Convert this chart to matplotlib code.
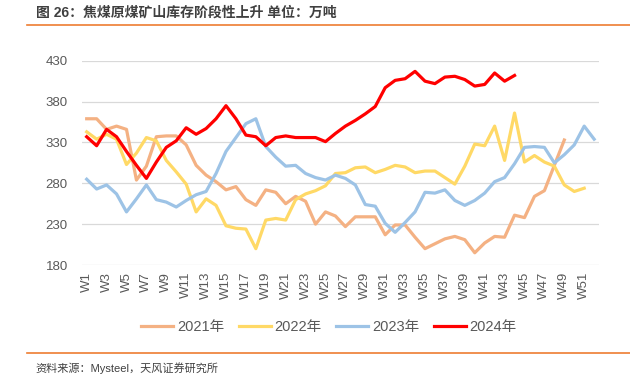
import matplotlib.pyplot as plt
import numpy as np

plt.rcParams['font.family'] = ['Liberation Sans', 'Noto Sans CJK SC', 'DejaVu Sans']

### DATA (万吨, weekly) ###
weeks = np.arange(1, 53)
week_labels = ["W" + str(w) for w in weeks]

y2021 = [359, 359, 346, 350, 346, 284, 301, 337, 338, 338, 327, 302, 290, 282, 272, 276,
         260, 253, 272, 269, 255, 264, 258, 230, 245, 240, 227, 239, 239, 239, 217, 229,
         229, 214, 200, 206, 212, 215, 211, 195, 207, 215, 214, 241, 238, 264, 271, 302,
         333]
y2022 = [343, 334, 340, 334, 303, 317, 336, 332, 308, 294, 279, 245, 261, 253, 228, 225,
         224, 200, 235, 237, 235, 260, 267, 271, 277, 292, 293, 299, 300, 293, 297, 302,
         300, 293, 295, 295, 287, 279, 301, 328, 326, 350, 308, 366, 306, 314, 306, 301,
         278, 270, 274]
y2023 = [285, 273, 278, 267, 245, 261, 278, 260, 257, 251, 259, 266, 270, 292, 319, 336,
         353, 359, 325, 312, 301, 302, 292, 287, 284, 290, 286, 278, 254, 252, 231, 220,
         232, 245, 269, 268, 272, 259, 253, 259, 268, 282, 287, 304, 324, 325, 324, 305,
         315, 327, 350, 334]
y2024 = [337, 326, 346, 337, 319, 302, 286, 306, 324, 332, 348, 340, 347, 359, 375, 359,
         339, 337, 326, 336, 338, 336, 336, 336, 331, 341, 350, 357, 365, 374, 397, 406,
         408, 417, 405, 402, 410, 411, 407, 399, 401, 415, 405, 412]

series = [("2021年", y2021, "#F4B183"),
          ("2022年", y2022, "#FFD966"),
          ("2023年", y2023, "#9DC3E6"),
          ("2024年", y2024, "#FF0000")]

### PLOT ###
fig = plt.figure(figsize=(6.3, 3.75), dpi=100)
ax = fig.add_axes([0.1297, 0.2933, 0.8213, 0.5447])

for name, vals, col in series:
    ax.plot(weeks[:len(vals)], vals, color=col, lw=2.3, label=name, solid_joinstyle='round')

ax.set_xlim(0.5, 52.5)
ax.set_ylim(180, 430)
ax.set_yticks(np.arange(180, 431, 50))
ax.set_xticks(weeks[::2])
ax.set_xticklabels(week_labels[::2], rotation=90)
ax.tick_params(axis='both', length=0, colors='#595959', labelsize=9.5)
ax.tick_params(axis='x', pad=5)
ax.tick_params(axis='y', pad=10)
ax.grid(axis='y', color='#D9D9D9', lw=0.9)
ax.set_axisbelow(True)
for s in ax.spines.values():
    s.set_visible(False)

fig.legend(loc='center', bbox_to_anchor=(0.522, 0.128), ncol=4, frameon=False,
           fontsize=10.5, handlelength=2.2, columnspacing=1.0, handletextpad=0.25,
           labelcolor='#595959')

### TITLE / SOURCE ###
fig.text(0.057, 0.966, "图 26：焦煤原煤矿山库存阶段性上升 单位：万吨", fontsize=10,
         fontweight='bold', color='#404040', va='center', ha='left')
fig.add_artist(plt.Line2D([0.043, 1.0], [0.933, 0.933], color='#ED7D31', lw=1.2))
fig.add_artist(plt.Line2D([0.043, 1.0], [0.06, 0.06], color='#ED7D31', lw=1.2))
fig.text(0.057, 0.019, "资料来源：Mysteel，天风证券研究所", fontsize=8, color='#404040',
         va='center', ha='left')

fig.savefig("out.png", dpi=100)
